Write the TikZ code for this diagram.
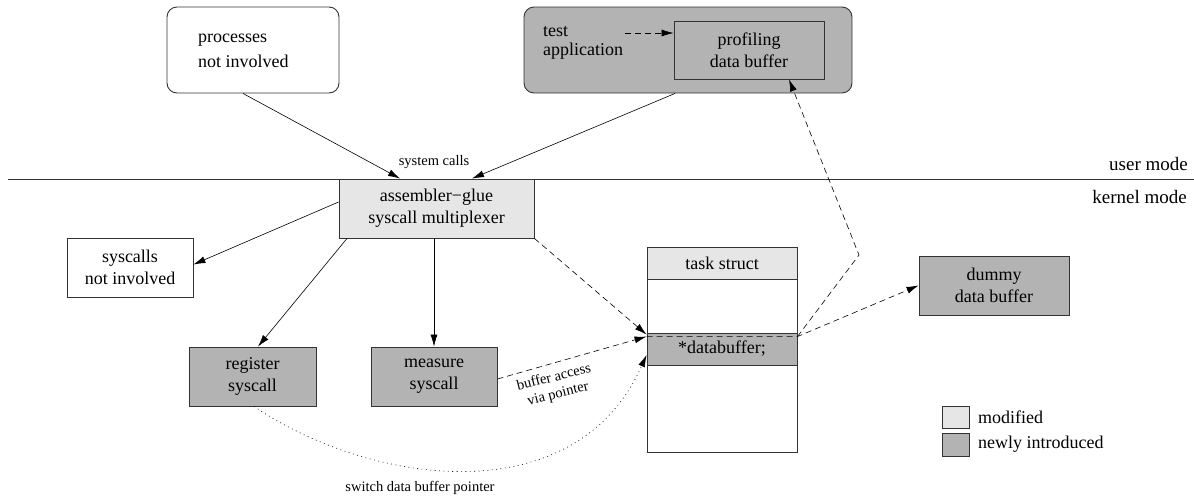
\documentclass[tikz,border=0pt]{standalone}
\usepackage{fontspec}
\setmainfont{Liberation Serif}
\usetikzlibrary{arrows.meta,calc}
\definecolor{lgray}{HTML}{E6E6E6}
\definecolor{dgray}{HTML}{B3B3B3}
\definecolor{edge}{HTML}{333333}
\tikzset{
  x=1pt, y=-1pt,
  mainfont/.style={font=\fontsize{18}{22}\selectfont},
  smallfont/.style={font=\fontsize{14.5}{17}\selectfont},
  modefont/.style={font=\fontsize{19}{22}\selectfont},
  box/.style={draw=edge, line width=0.9pt, inner sep=0pt, align=center, mainfont},
  lbox/.style={box, fill=lgray},
  dbox/.style={box, fill=dgray},
  wbox/.style={box, fill=white},
  txt/.style={inner sep=0pt, align=left, mainfont},
  arr/.style={draw=black, line width=0.6pt, -{Latex[length=12pt,width=7pt]}},
  darr/.style={arr, dash pattern=on 6pt off 4pt},
  dotarr/.style={arr, dash pattern=on 0.9pt off 3.5pt},
}
\begin{document}
\begin{tikzpicture}
\useasboundingbox (0,0) rectangle (1194,496);
% mode separator
\coordinate (sepl) at (8,179);
\coordinate (sepr) at (1194,179);
\draw[line width=0.8pt, edge] (sepl) -- (sepr);
\node[modefont, anchor=east, inner sep=0pt] (um) at (1188,164) {user mode};
\node[modefont, anchor=east, inner sep=0pt] (km) at (1187,197) {kernel mode};

% user space
\node[wbox, rounded corners=10pt, minimum width=172pt, minimum height=86pt] (proc) at (253,50) {};
\node[txt, anchor=west, font=\fontsize{18}{25}\selectfont] (proctxt) at (198,51) {processes\\not involved};

\node[dbox, rounded corners=10pt, minimum width=328pt, minimum height=86pt] (test) at (688,50) {};
\node[txt, anchor=west, font=\fontsize{18}{19}\selectfont] (testtxt) at (543,43) {test\\application};
\node[dbox, minimum width=150pt, minimum height=58pt] (prof) at (749,50) {profiling\\data buffer};

% kernel
\node[lbox, minimum width=195pt, minimum height=59pt] (asm) at (436.5,208.5) {assembler\textminus glue\\syscall multiplexer};
\node[wbox, minimum width=126pt, minimum height=59pt] (sys) at (130,267.5) {syscalls\\not involved};
\node[dbox, minimum width=127pt, minimum height=59pt] (reg) at (252.5,376.5) {register\\syscall};
\node[dbox, minimum width=126pt, minimum height=59pt] (meas) at (434,376.5) {measure\\syscall};

% task struct
\node[lbox, minimum width=150pt, minimum height=32pt] (ts) at (722,263) {task struct};
\node[wbox, minimum width=150pt, minimum height=54pt] (tsmid) at (722,306) {};
\node[dbox, minimum width=150pt, minimum height=32pt] (db) at (722,349) {*databuffer;};
\node[wbox, minimum width=150pt, minimum height=87pt] (tsbot) at (722,408.5) {};

\node[dbox, minimum width=150pt, minimum height=59pt] (dummy) at (994,285.5) {dummy\\data buffer};

% legend
\node[lbox, minimum width=27pt, minimum height=22pt] (leg1) at (955.5,417) {};
\node[dbox, minimum width=27pt, minimum height=23pt] (leg2) at (955.5,444.5) {};
\node[txt, anchor=west] (leg1t) at (978,417) {modified};
\node[txt, anchor=west] (leg2t) at (978,444) {newly introduced};

% labels
\node[smallfont, inner sep=0pt] (sc) at (434,162) {system calls};
\node[smallfont, inner sep=0pt] (sw) at (420,488) {switch data buffer pointer};
\node[smallfont, inner sep=0pt, align=center, rotate=14] (ba) at (556,386) {buffer access\\via pointer};

% connectors
\coordinate (tstart) at (625,33);
\draw[darr] (tstart) -- ([yshift=17pt]prof.west);
\draw[arr] ([xshift=-10pt]proc.south) -- ([xshift=-36.5pt]asm.north);
\draw[arr] ([xshift=-13pt]test.south) -- ([xshift=35.5pt]asm.north);
\draw[arr] ([yshift=6.5pt]asm.west) -- ([yshift=3pt]sys.east);
\draw[arr] ([xshift=-89.5pt]asm.south) -- ([xshift=5.5pt]reg.north);
\draw[arr] ([xshift=-2.5pt]asm.south) -- (meas.north);
\draw[darr] (asm.south east) -- ([yshift=-2pt]db.north west);
\draw[darr] ([yshift=-2.5pt]meas.east) -- ([yshift=-4pt]db.north west);
\draw[dotarr] ([xshift=1.5pt]reg.south) .. controls (370,485) and (575,515) .. ([yshift=-6pt]db.west);
\coordinate (bend) at (859,255);
\draw[darr] ([yshift=-4pt]db.north west) -- ([yshift=-4pt]db.north east) -- ([yshift=0pt]dummy.west);
\draw[darr] ([yshift=-4pt]db.north east) -- (bend) -- ([xshift=40pt]prof.south);
\end{tikzpicture}
\end{document}
